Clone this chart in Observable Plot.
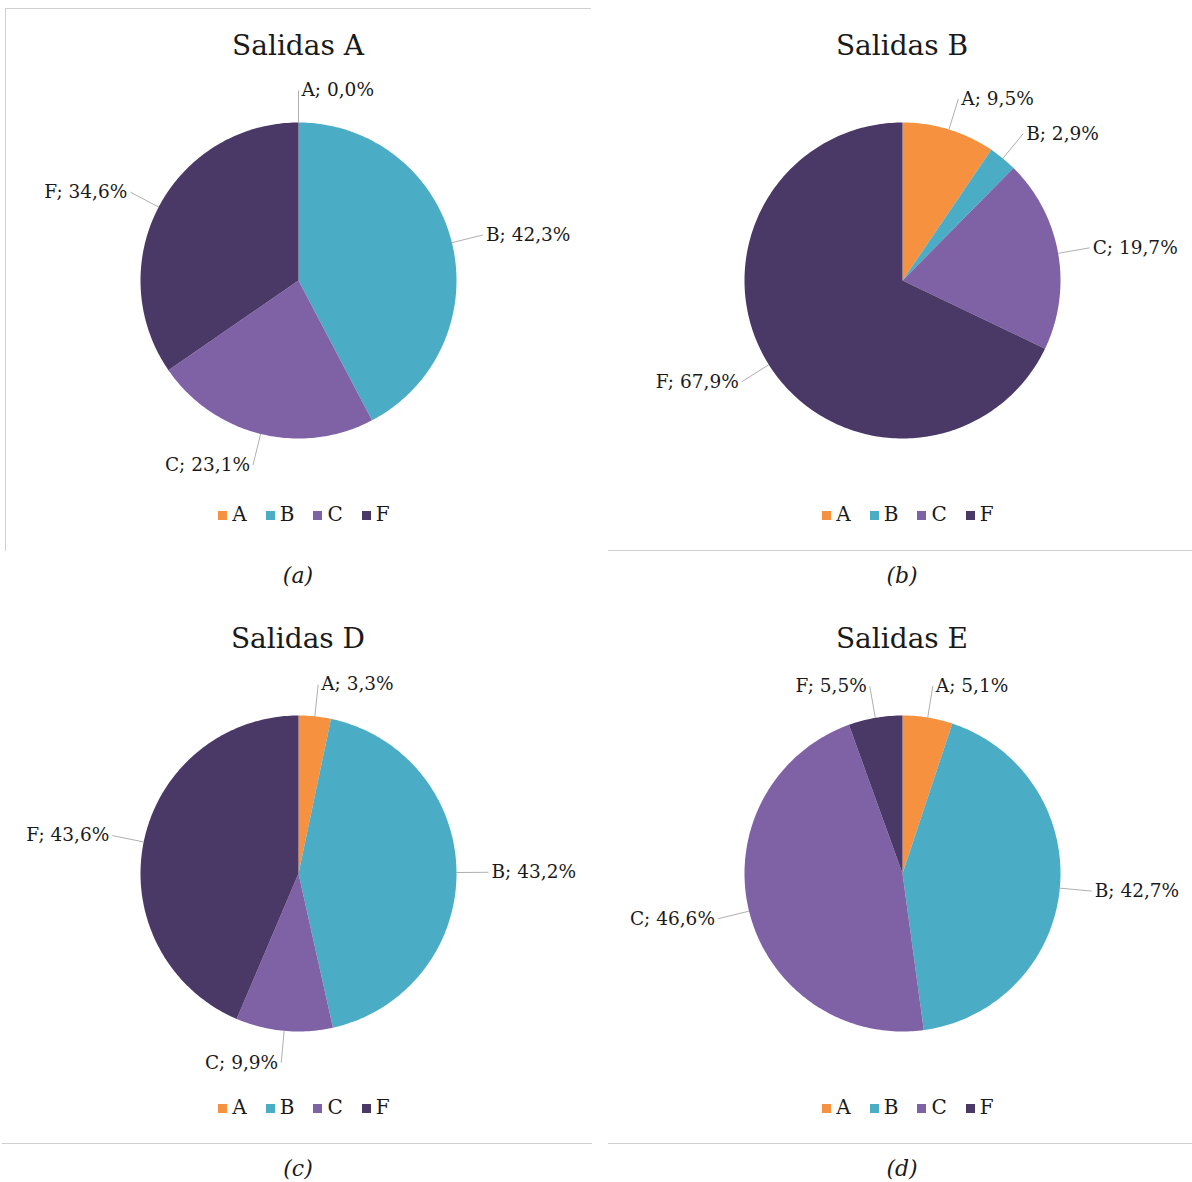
<!DOCTYPE html>
<html><head><meta charset="utf-8">
<script src="https://cdn.jsdelivr.net/npm/d3@7"></script>
<script src="https://cdn.jsdelivr.net/npm/@observablehq/plot@0.6"></script>
<style>
body{margin:0;background:#fff;width:1192px;height:1182px;overflow:hidden;position:relative;font-family:"DejaVu Serif",serif;color:#1a1a1a}
.panel{position:absolute;width:596px;height:593px}
.title{position:absolute;left:0;width:596px;top:29px;line-height:34px;font-size:28px;text-align:center}
.chart{position:absolute;left:0;top:70px}
.legend{position:absolute;top:503px;left:6px;width:596px;display:flex;justify-content:center;gap:19px;font-size:20px;line-height:22px}
.legend .sw{display:inline-block;width:9px;height:9px;margin-right:5px;vertical-align:1px}
.caption{position:absolute;top:563px;left:0;width:596px;text-align:center;font-style:italic;font-size:22px;line-height:26px}
.frame{position:absolute;border-color:#d0d0d0;border-style:solid;border-width:0}
</style></head>
<body>
<script>
// ---- data ----
const categories = ["A", "B", "C", "F"];
const titles = ["Salidas A", "Salidas B", "Salidas D", "Salidas E"];
const captions = ["(a)", "(b)", "(c)", "(d)"];
const salidasA = [0.0, 42.3, 23.1, 34.6];
const salidasB = [9.5, 2.9, 19.7, 67.9];
const salidasD = [3.3, 43.2, 9.9, 43.6];
const salidasE = [5.1, 42.7, 46.6, 5.5];
const colors = ["#F5913F", "#4BACC6", "#7F62A6", "#4A3967"];

// ---- layout constants ----
const R = 158;          // pie radius (px)
const LABEL_R = 190;    // label radius (px)
const W = 596, H = 420;

const series = [salidasA, salidasB, salidasD, salidasE];
const fmt = v => v.toFixed(1).replace(".", ",") + "%";

function pie(values) {
  const rows = categories.map((c, i) => ({cat: c, value: values[i]}));
  const arcs = d3.pie().sort(null).value(d => d.value)(rows);
  const poly = [];
  for (const a of arcs) {
    poly.push({cat: a.data.cat, x: 0, y: 0});
    const n = Math.max(2, Math.ceil((a.endAngle - a.startAngle) / (Math.PI / 180)));
    for (let k = 0; k <= n; k++) {
      const t = a.startAngle + (a.endAngle - a.startAngle) * k / n;
      poly.push({cat: a.data.cat, x: R * Math.sin(t), y: R * Math.cos(t)});
    }
  }
  const labels = arcs.map(a => {
    const m = (a.startAngle + a.endAngle) / 2, s = Math.sin(m), c = Math.cos(m);
    const right = s >= 0;
    return {
      text: a.data.cat + "; " + fmt(a.data.value), right,
      x1: R * s, y1: R * c, x2: LABEL_R * s, y2: LABEL_R * c,
      lx: LABEL_R * s + (right ? 3 : -3), ly: LABEL_R * c
    };
  });
  return Plot.plot({
    width: W, height: H, margin: 0,
    x: {domain: [-W / 2, W / 2], axis: null},
    y: {domain: [-H / 2, H / 2], axis: null},
    color: {domain: categories, range: colors},
    style: {background: "transparent", overflow: "visible"},
    marks: [
      Plot.line(poly, {x: "x", y: "y", z: "cat", fill: "cat", stroke: "none"}),
      Plot.link(labels, {x1: "x1", y1: "y1", x2: "x2", y2: "y2", stroke: "#a6a6a6", strokeWidth: 0.9}),
      Plot.text(labels.filter(d => d.right), {x: "lx", y: "ly", text: "text", textAnchor: "start", fontSize: 18.5, fontFamily: "DejaVu Serif", fill: "#1a1a1a"}),
      Plot.text(labels.filter(d => !d.right), {x: "lx", y: "ly", text: "text", textAnchor: "end", fontSize: 18.5, fontFamily: "DejaVu Serif", fill: "#1a1a1a"})
    ]
  });
}

const frames = [
  {left: 5, top: 8, width: 585, height: 542, bl: 1, bt: 1, bb: 0},
  {left: 4, top: 8, width: 600, height: 542, bl: 0, bt: 0, bb: 1},
  {left: 2, top: 8, width: 590, height: 542, bl: 0, bt: 0, bb: 1},
  {left: 4, top: 8, width: 600, height: 542, bl: 0, bt: 0, bb: 1}
];

series.forEach((vals, i) => {
  const col = i % 2, row = Math.floor(i / 2);
  const p = document.createElement("div");
  p.className = "panel";
  p.style.left = (col * 604) + "px";
  p.style.top = (row * 593) + "px";
  const f = frames[i];
  const fr = document.createElement("div");
  fr.className = "frame";
  Object.assign(fr.style, {left: f.left + "px", top: f.top + "px", width: f.width + "px", height: f.height + "px",
    borderLeftWidth: f.bl + "px", borderTopWidth: f.bt + "px", borderBottomWidth: f.bb + "px"});
  p.appendChild(fr);
  const t = document.createElement("div");
  t.className = "title"; t.textContent = titles[i];
  p.appendChild(t);
  const c = document.createElement("div");
  c.className = "chart";
  c.appendChild(pie(vals));
  p.appendChild(c);
  const lg = document.createElement("div");
  lg.className = "legend";
  categories.forEach((cat, k) => {
    const it = document.createElement("span");
    it.innerHTML = `<span class="sw" style="background:${colors[k]}"></span>${cat}`;
    lg.appendChild(it);
  });
  p.appendChild(lg);
  const cap = document.createElement("div");
  cap.className = "caption"; cap.textContent = captions[i];
  p.appendChild(cap);
  document.body.appendChild(p);
});
</script>
</body></html>
